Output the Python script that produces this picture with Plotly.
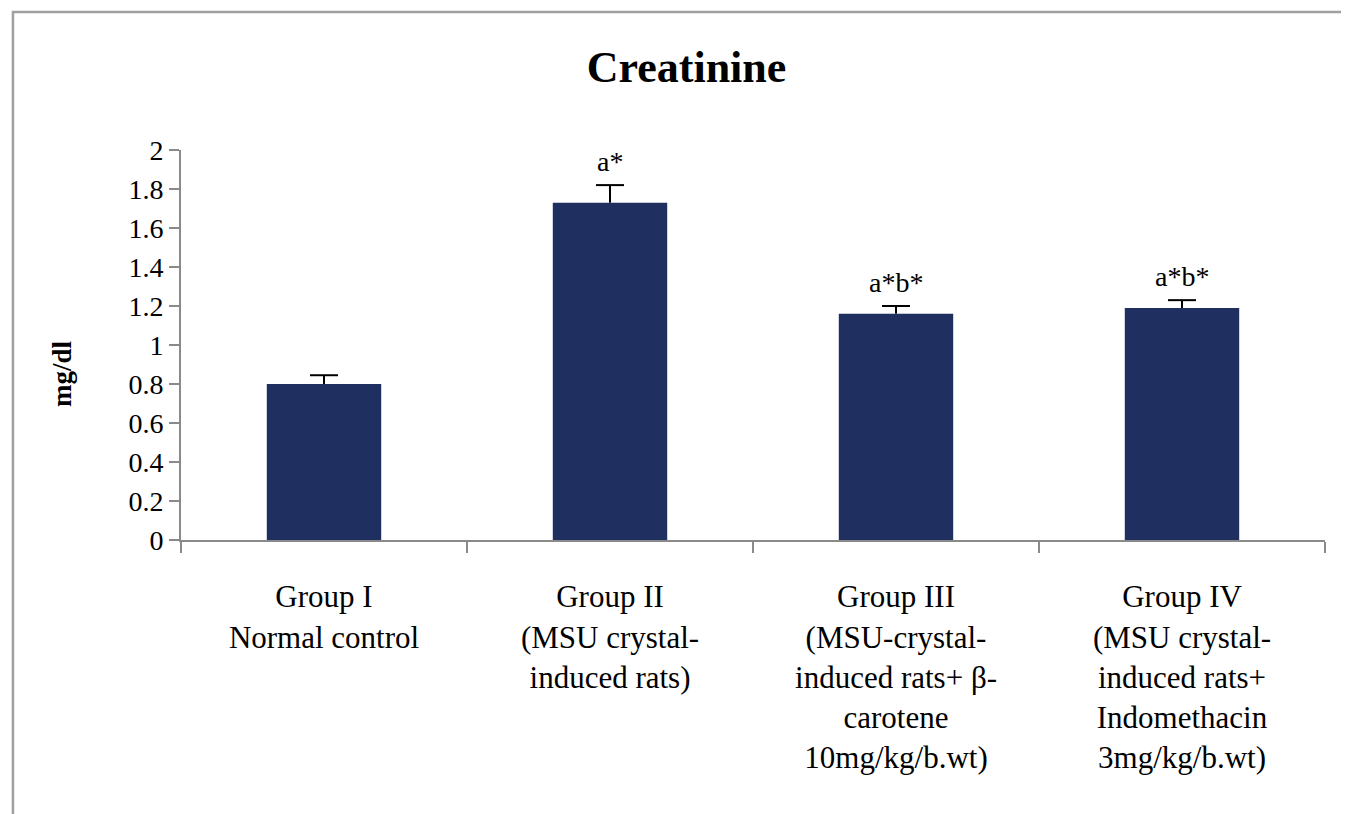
import plotly.graph_objects as go

categories = [
    "Group I<br>Normal control",
    "Group II<br>(MSU crystal-<br>induced rats)",
    "Group III<br>(MSU-crystal-<br>induced rats+ β-<br>carotene<br>10mg/kg/b.wt)",
    "Group IV<br>(MSU crystal-<br>induced rats+<br>Indomethacin<br>3mg/kg/b.wt)",
]
values = [0.80, 1.73, 1.16, 1.19]
errors = [0.045, 0.09, 0.04, 0.04]
sig_labels = ["", "a*", "a*b*", "a*b*"]
y_ticks = [0, 0.2, 0.4, 0.6, 0.8, 1, 1.2, 1.4, 1.6, 1.8, 2]

FONT = "Liberation Serif, Times New Roman, serif"
AXIS_COLOR = "#8a8a8a"

upper = [v + e for v, e in zip(values, errors)]

fig = go.Figure()
fig.add_trace(go.Bar(
    x=categories, y=values,
    marker=dict(color="#1f2f5f", line=dict(width=0)),
    width=0.4,
    showlegend=False,
    hoverinfo="skip",
))
# upper-only error bars: stem down to bar top, cap drawn as a marker
fig.add_trace(go.Scatter(
    x=categories, y=upper, mode="markers",
    marker=dict(symbol="line-ew-open", size=20, color="black",
                line=dict(color="black", width=2)),
    error_y=dict(type="data", symmetric=False, array=[0] * len(errors),
                 arrayminus=errors, visible=True, color="black",
                 thickness=2, width=0),
    showlegend=False,
))

for c, u, s in zip(categories, upper, sig_labels):
    if s:
        fig.add_annotation(x=c, y=u, text=s, showarrow=False,
                           yanchor="bottom", yshift=6,
                           font=dict(family=FONT, size=28, color="black"))

fig.add_annotation(xref="paper", yref="paper", x=-0.104, y=0.4256,
                   xanchor="center", yanchor="middle",
                   text="<b>mg/dl</b>", textangle=-90, showarrow=False,
                   font=dict(family=FONT, size=27, color="black"))

fig.add_shape(type="rect", xref="paper", yref="paper",
              x0=-0.1469, x1=1.3, y0=-1.2, y1=1.3538,
              line=dict(color="#a0a0a0", width=2.5), fillcolor="rgba(0,0,0,0)",
              layer="below")

fig.update_layout(
    width=1341, height=806,
    margin=dict(l=173, r=24, t=142, b=274),
    paper_bgcolor="white", plot_bgcolor="white",
    title=dict(text="<b>Creatinine</b>", x=0.506, xanchor="center",
               y=1 - 59 / 806, yanchor="middle", yref="container",
               font=dict(family=FONT, size=44, color="black")),
    font=dict(family=FONT, color="black"),
    xaxis=dict(showline=True, linecolor=AXIS_COLOR, linewidth=2,
               ticks="outside", tickson="boundaries", ticklen=11,
               tickcolor=AXIS_COLOR, tickwidth=2,
               tickfont=dict(family=FONT, size=31, color="black"),
               ticklabelstandoff=28,
               showgrid=False, zeroline=False, tickangle=0),
    yaxis=dict(range=[0, 2], tickvals=y_ticks, showline=True,
               linecolor=AXIS_COLOR, linewidth=2,
               ticks="outside", ticklen=10, tickcolor=AXIS_COLOR, tickwidth=2,
               tickfont=dict(family=FONT, size=28, color="black"),
               showgrid=False, zeroline=False),
)

fig.write_html("out.html")
